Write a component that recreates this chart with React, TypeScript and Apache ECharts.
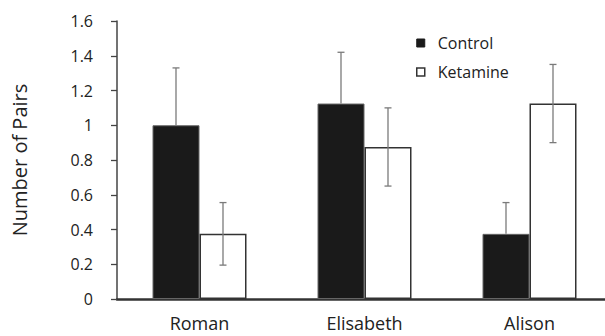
import React, { useEffect, useRef } from "react";
import * as echarts from "echarts";

const categories = ["Roman", "Elisabeth", "Alison"];
const controlValues = [1.0, 1.125, 0.375];
const controlErrors = [0.33, 0.295, 0.18];
const ketamineValues = [0.375, 0.875, 1.125];
const ketamineErrors = [0.18, 0.225, 0.225];
const yTicks = { min: 0, max: 1.6, interval: 0.2 };

const FONT = "'Open Sans', 'Noto Sans', sans-serif";
const BAR_WIDTH = 47;

function errorSeries(name: string, values: number[], errors: number[], side: number, lowerToo: boolean) {
  return {
    type: "custom",
    name: name + " error",
    silent: true,
    z: 5,
    data: values.map((v, i) => [i, v, errors[i]]),
    renderItem: (_params: any, api: any) => {
      const idx = api.value(0);
      const v = api.value(1);
      const e = api.value(2);
      const top = api.coord([idx, v + e]);
      const bot = api.coord([idx, lowerToo ? v - e : v]);
      const x = top[0] + (side * BAR_WIDTH) / 2;
      const cap = 3.5;
      const style = { stroke: "#7a7a7a", lineWidth: 1.3, fill: "none" };
      const children: any[] = [
        { type: "line", shape: { x1: x, y1: top[1], x2: x, y2: bot[1] }, style },
        { type: "line", shape: { x1: x - cap, y1: top[1], x2: x + cap, y2: top[1] }, style },
      ];
      if (lowerToo) {
        children.push({ type: "line", shape: { x1: x - cap, y1: bot[1], x2: x + cap, y2: bot[1] }, style });
      }
      return { type: "group", children };
    },
  };
}

export default function App() {
  const ref = useRef<HTMLDivElement>(null);
  useEffect(() => {
    document.body.style.margin = "0";
    if (!ref.current) return;
    const chart = echarts.init(ref.current, undefined, { renderer: "svg" });
    chart.setOption({
      animation: false,
      backgroundColor: "#ffffff",
      textStyle: { fontFamily: FONT },
      grid: { left: 117, top: 21, bottom: 37, width: 495, outerBoundsMode: "none", containLabel: false },
      legend: {
        orient: "vertical",
        left: 416,
        top: 35,
        padding: 0,
        itemWidth: 8,
        itemHeight: 8,
        itemGap: 13,
        icon: "rect",
        textStyle: { fontFamily: FONT, fontSize: 16, lineHeight: 16, color: "#222", padding: [0, 0, 0, 8] },
        data: [
          { name: "Control", itemStyle: { color: "#1a1a1a", borderColor: "#1a1a1a", borderWidth: 1 } },
          { name: "Ketamine", itemStyle: { color: "#ffffff", borderColor: "#333", borderWidth: 1.5 } },
        ],
      },
      xAxis: {
        type: "category",
        data: categories,
        axisLine: { show: true, lineStyle: { color: "#333333", width: 2.5 } },
        axisTick: { show: false },
        axisLabel: { fontFamily: FONT, fontSize: 18, color: "#222", margin: 15 },
      },
      yAxis: {
        type: "value",
        min: yTicks.min,
        max: yTicks.max,
        interval: yTicks.interval,
        name: "Number of Pairs",
        nameLocation: "middle",
        nameGap: 88,
        nameTextStyle: { fontFamily: FONT, fontSize: 20, color: "#222" },
        splitLine: { show: false },
        axisLine: { show: true, lineStyle: { color: "#444", width: 1.5 } },
        axisTick: { show: true, inside: false, length: 6, lineStyle: { color: "#444", width: 1.3 } },
        axisLabel: { fontFamily: FONT, fontSize: 16, color: "#222", margin: 24 },
      },
      series: [
        {
          name: "Control",
          type: "bar",
          barWidth: BAR_WIDTH,
          barGap: "0%",
          data: controlValues,
          itemStyle: { color: "#1a1a1a", borderColor: "#666", borderWidth: 1 },
        },
        {
          name: "Ketamine",
          type: "bar",
          barWidth: BAR_WIDTH,
          barGap: "0%",
          data: ketamineValues,
          itemStyle: { color: "#ffffff", borderColor: "#333", borderWidth: 1.5 },
        },
        errorSeries("Control", controlValues, controlErrors, -1, false),
        errorSeries("Ketamine", ketamineValues, ketamineErrors, 1, true),
      ],
    });
    return () => chart.dispose();
  }, []);
  return <div ref={ref} style={{ width: 605, height: 336 }} />;
}
